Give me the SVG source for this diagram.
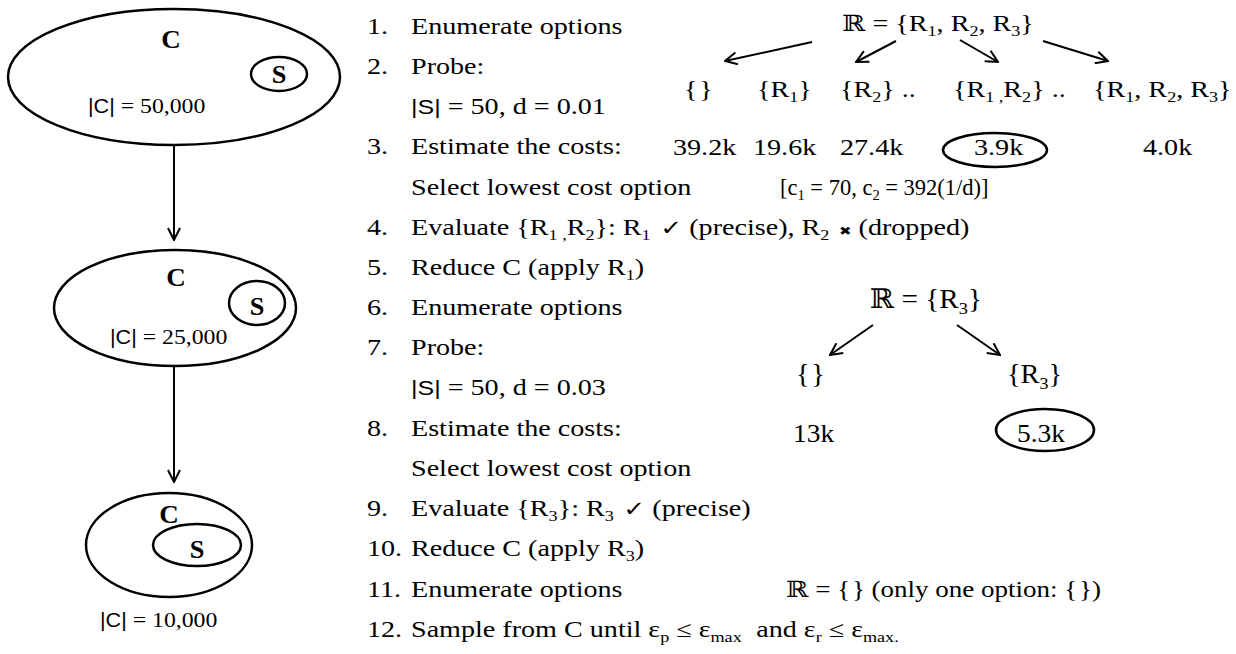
<svg xmlns="http://www.w3.org/2000/svg" width="1236" height="654" viewBox="0 0 1236 654">
<defs>
<style>
.t{font-family:"Liberation Serif","DejaVu Serif",serif;font-size:22.5px;fill:#000}
.t2{font-family:"Liberation Serif","DejaVu Serif",serif;font-size:27px;fill:#000}
.lbl{font-family:"Liberation Serif","DejaVu Serif",serif;font-size:22px;fill:#000}
.b{font-family:"Liberation Serif","DejaVu Serif",serif;font-weight:bold;font-size:25px;fill:#000;text-anchor:middle}
.sans{font-family:"Liberation Sans",Arial,sans-serif;font-size:20px}
.sym{font-family:"DejaVu Sans",sans-serif;font-size:21px}
.x{font-family:"DejaVu Sans",sans-serif;font-size:12px}
.ds{font-family:"DejaVu Serif","DejaVu Sans",serif}
.sub{font-size:14.5px}
.sub2{font-size:17px}
.shape{fill:none;stroke:#000;stroke-width:2.5}
.conn line{stroke:#000;stroke-width:2;fill:none}
</style>
<marker id="arr" viewBox="0 0 14 14" refX="13" refY="7" markerWidth="14" markerHeight="14" markerUnits="userSpaceOnUse" orient="auto">
<path d="M1,1 L13,7 L1,13" fill="none" stroke="#000" stroke-width="2"/>
</marker>
</defs>

<!-- Left nodes -->
<g id="node-c1">
<ellipse class="shape" cx="174" cy="77" rx="166" ry="68"/>
<text class="b" transform="matrix(1.08 0 0 1 171 48)">C</text>
<ellipse class="shape" cx="279" cy="74" rx="28" ry="17"/>
<text class="b" transform="matrix(1.05 0 0 1 279 83)">S</text>
<text class="lbl" transform="matrix(1.08 0 0 1 88 113)"><tspan class="sans">|C|</tspan> = 50,000</text>
</g>
<g id="node-c2">
<ellipse class="shape" cx="175" cy="308" rx="121" ry="58"/>
<text class="b" transform="matrix(1.08 0 0 1 176 286)">C</text>
<ellipse class="shape" cx="257" cy="303" rx="28" ry="22"/>
<text class="b" transform="matrix(1.05 0 0 1 257 315)">S</text>
<text class="lbl" transform="matrix(1.08 0 0 1 110 344)"><tspan class="sans">|C|</tspan> = 25,000</text>
</g>
<g id="node-c3">
<ellipse class="shape" cx="169" cy="545" rx="83" ry="52"/>
<text class="b" transform="matrix(1.08 0 0 1 169 523)">C</text>
<ellipse class="shape" cx="197" cy="545" rx="44" ry="21"/>
<text class="b" transform="matrix(1.05 0 0 1 197 558)">S</text>
<text class="lbl" transform="matrix(1.08 0 0 1 100 627)"><tspan class="sans">|C|</tspan> = 10,000</text>
</g>

<!-- Steps list -->
<g id="steps">
<text class="t" transform="matrix(1.25 0 0 1 367 34)">1.</text>
<text class="t" transform="matrix(1.25 0 0 1 411 34)">Enumerate options</text>
<text class="t" transform="matrix(1.25 0 0 1 367 74)">2.</text>
<text class="t" transform="matrix(1.25 0 0 1 411 74)">Probe:</text>
<text class="t" transform="matrix(1.25 0 0 1 411 114)"><tspan class="sans">|S|</tspan> = 50, d = 0.01</text>
<text class="t" transform="matrix(1.25 0 0 1 367 154)">3.</text>
<text class="t" transform="matrix(1.25 0 0 1 411 154)">Estimate the costs:</text>
<text class="t" transform="matrix(1.25 0 0 1 411 195)">Select lowest cost option</text>
<text class="t" transform="matrix(1.0 0 0 1 780 195)">[c<tspan class="sub" dy="5">1</tspan><tspan dy="-5"> = 70, c</tspan><tspan class="sub" dy="5">2</tspan><tspan dy="-5"> = 392(1/d)]</tspan></text>
<text class="t" transform="matrix(1.25 0 0 1 367 235)">4.</text>
<text class="t" transform="matrix(1.25 0 0 1 411 235)">Evaluate {R<tspan class="sub" dy="5">1 ,</tspan><tspan dy="-5">R</tspan><tspan class="sub" dy="5">2</tspan><tspan dy="-5">}: R</tspan><tspan class="sub" dy="5">1</tspan><tspan dy="-5" dx="2"> </tspan><tspan class="sym">✓</tspan> (precise), R<tspan class="sub" dy="5">2</tspan><tspan dy="-5" dx="2"> </tspan><tspan class="x">✖</tspan> (dropped)</text>
<text class="t" transform="matrix(1.25 0 0 1 367 275)">5.</text>
<text class="t" transform="matrix(1.25 0 0 1 411 275)">Reduce C (apply R<tspan class="sub" dy="5">1</tspan><tspan dy="-5">)</tspan></text>
<text class="t" transform="matrix(1.25 0 0 1 367 315)">6.</text>
<text class="t" transform="matrix(1.25 0 0 1 411 315)">Enumerate options</text>
<text class="t" transform="matrix(1.25 0 0 1 367 355)">7.</text>
<text class="t" transform="matrix(1.25 0 0 1 411 355)">Probe:</text>
<text class="t" transform="matrix(1.25 0 0 1 411 395)"><tspan class="sans">|S|</tspan> = 50, d = 0.03</text>
<text class="t" transform="matrix(1.25 0 0 1 367 436)">8.</text>
<text class="t" transform="matrix(1.25 0 0 1 411 436)">Estimate the costs:</text>
<text class="t" transform="matrix(1.25 0 0 1 411 476)">Select lowest cost option</text>
<text class="t" transform="matrix(1.25 0 0 1 367 516)">9.</text>
<text class="t" transform="matrix(1.25 0 0 1 411 516)">Evaluate {R<tspan class="sub" dy="5">3</tspan><tspan dy="-5">}: R</tspan><tspan class="sub" dy="5">3</tspan><tspan dy="-5" dx="2"> </tspan><tspan class="sym">✓</tspan> (precise)</text>
<text class="t" transform="matrix(1.25 0 0 1 367 556)">10.</text>
<text class="t" transform="matrix(1.25 0 0 1 411 556)">Reduce C (apply R<tspan class="sub" dy="5">3</tspan><tspan dy="-5">)</tspan></text>
<text class="t" transform="matrix(1.25 0 0 1 367 597)">11.</text>
<text class="t" transform="matrix(1.25 0 0 1 411 597)">Enumerate options</text>
<text class="t" transform="matrix(1.2 0 0 1 786 597)"><tspan class="ds">ℝ</tspan> = {<tspan font-size="6"> </tspan>} (only one option: {<tspan font-size="6"> </tspan>})</text>
<text class="t" transform="matrix(1.25 0 0 1 367 637)">12.</text>
<text class="t" transform="matrix(1.25 0 0 1 411 637)">Sample from C until ε<tspan class="sub" dy="5">p</tspan><tspan dy="-5"> ≤ ε</tspan><tspan class="sub" dy="5">max</tspan><tspan dy="-5" dx="6"> and ε</tspan><tspan class="sub" dy="5">r</tspan><tspan dy="-5"> ≤ ε</tspan><tspan class="sub" dy="5">max.</tspan></text>
</g>

<!-- Option tree 1 -->
<g id="tree1">
<text class="t" transform="matrix(1.25 0 0 1 842 31)"><tspan class="ds">ℝ</tspan> = {R<tspan class="sub" dy="5">1</tspan><tspan dy="-5">, R</tspan><tspan class="sub" dy="5">2</tspan><tspan dy="-5">, R</tspan><tspan class="sub" dy="5">3</tspan><tspan dy="-5">}</tspan></text>
<text class="t" transform="matrix(1.25 0 0 1 684 97)">{<tspan font-size="6"> </tspan>}</text>
<text class="t" transform="matrix(1.25 0 0 1 757 97)">{R<tspan class="sub" dy="5">1</tspan><tspan dy="-5">}</tspan></text>
<text class="t" transform="matrix(1.25 0 0 1 840 97)">{R<tspan class="sub" dy="5">2</tspan><tspan dy="-5">} ..</tspan></text>
<text class="t" transform="matrix(1.25 0 0 1 953 97)">{R<tspan class="sub" dy="5">1 ,</tspan><tspan dy="-5">R</tspan><tspan class="sub" dy="5">2</tspan><tspan dy="-5">} ..</tspan></text>
<text class="t" transform="matrix(1.25 0 0 1 1093 97)">{R<tspan class="sub" dy="5">1</tspan><tspan dy="-5">, R</tspan><tspan class="sub" dy="5">2</tspan><tspan dy="-5">, R</tspan><tspan class="sub" dy="5">3</tspan><tspan dy="-5">}</tspan></text>
<text class="t" transform="matrix(1.25 0 0 1 673 155)">39.2k</text>
<text class="t" transform="matrix(1.25 0 0 1 753 155)">19.6k</text>
<text class="t" transform="matrix(1.25 0 0 1 840 155)">27.4k</text>
<ellipse class="shape" cx="995" cy="150" rx="52" ry="17"/>
<text class="t" transform="matrix(1.25 0 0 1 974 155)">3.9k</text>
<text class="t" transform="matrix(1.25 0 0 1 1143 155)">4.0k</text>
</g>

<!-- Option tree 2 -->
<g id="tree2">
<text class="t2" transform="matrix(1.08 0 0 1 870 308)"><tspan class="ds">ℝ</tspan> = {R<tspan class="sub2" dy="6">3</tspan><tspan dy="-6">}</tspan></text>
<text class="t2" transform="matrix(1.05 0 0 1 796 383)">{<tspan font-size="6"> </tspan>}</text>
<text class="t2" transform="matrix(1.05 0 0 1 1007 383)">{R<tspan class="sub2" dy="6">3</tspan><tspan dy="-6">}</tspan></text>
<text class="t" transform="matrix(1.1 0 0 1 793 442)" style="font-size:25px">13k</text>
<ellipse class="shape" cx="1045" cy="430" rx="49" ry="21"/>
<text class="t" transform="matrix(1.1 0 0 1 1017 442)" style="font-size:25px">5.3k</text>
</g>

<!-- Connectors -->
<g id="connectors" class="conn">
<line x1="174" y1="145" x2="174" y2="240" marker-end="url(#arr)"/>
<line x1="174" y1="366" x2="174" y2="482" marker-end="url(#arr)"/>
<line x1="812" y1="42" x2="725" y2="61" marker-end="url(#arr)"/>
<line x1="896" y1="41" x2="856" y2="62" marker-end="url(#arr)"/>
<line x1="960" y1="40" x2="998" y2="62" marker-end="url(#arr)"/>
<line x1="1043" y1="41" x2="1108" y2="61" marker-end="url(#arr)"/>
<line x1="873" y1="325" x2="830" y2="355" marker-end="url(#arr)"/>
<line x1="957" y1="325" x2="1000" y2="355" marker-end="url(#arr)"/>
</g>
</svg>
